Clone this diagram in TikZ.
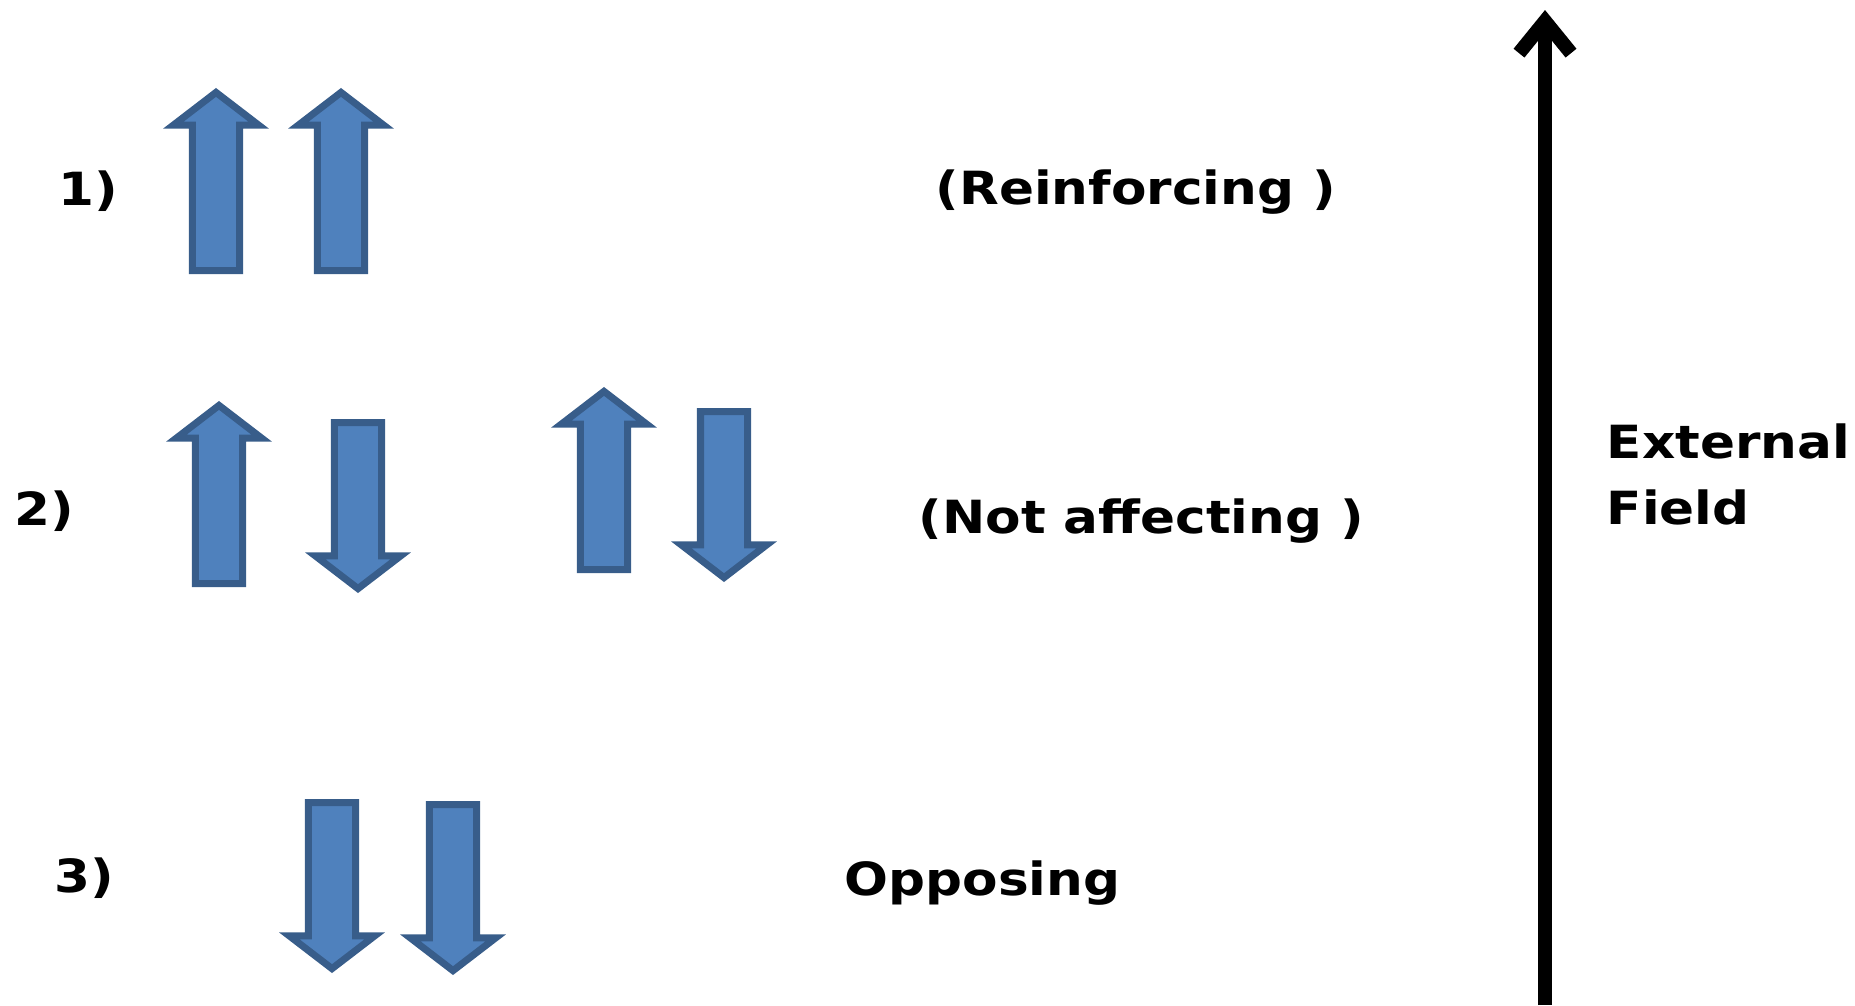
\documentclass[tikz,border=0pt]{standalone}
\usepackage{fontspec}
\setmainfont{DejaVu Sans}[FakeStretch=1.13]
\usetikzlibrary{shapes.arrows,arrows.meta}
\definecolor{spinfill}{HTML}{4F81BD}
\definecolor{spinedge}{HTML}{385D8A}
\begin{document}
\begin{tikzpicture}[x=0.01cm,y=-0.01cm,spin/.style={single arrow,draw=spinedge,fill=spinfill,line width=0.07cm,inner sep=0.2cm,single arrow head extend=0.19cm,single arrow tip angle=105,anchor=tail}]
		\tikzstyle{upspin}=[spin,rotate=90,minimum height=1.78cm]
		\tikzstyle{downspin}=[spin,rotate=-90,minimum height=1.66cm]
		\tikzstyle{lbl}=[font=\fontsize{13}{16}\selectfont\bfseries,anchor=base west,inner sep=0]
		\tikzstyle{field}=[draw,line width=0.14cm,-{Straight Barb[length=0.32cm,width=0.52cm]}]
		\useasboundingbox (0,0) rectangle (1855,1005);
		% spins
		\foreach \n/\x/\y in {1/216/274,2/341/274,3/219/587,4/604/573}
		{\node[upspin] (up\n) at (\x,\y){};}
		\foreach \n/\x/\y in {1/358/419,2/724/408,3/332/799,4/453/801}
		{\node[downspin] (down\n) at (\x,\y){};}
		
		\node[lbl] (case1) at (58,205){1)};
		\node[lbl] (reinf) at (935,204){(Reinforcing )};
		\node[lbl] (case2) at (14,525){2)};
		\node[lbl] (notaff) at (918,533){(Not affecting )};
		\node[lbl] (case3) at (54,892){3)};
		\node[lbl] (oppo) at (844,895){Opposing};
		\node[lbl] (extlbl) at (1606,458){External};
		\node[lbl] (fieldlbl) at (1606,524){Field};
		
		\coordinate (fbase) at (1545,1005);
		\coordinate (ftop) at (1545,10);
		\path[field] (fbase) -- (ftop);
		
		\end{tikzpicture}
\end{document}
